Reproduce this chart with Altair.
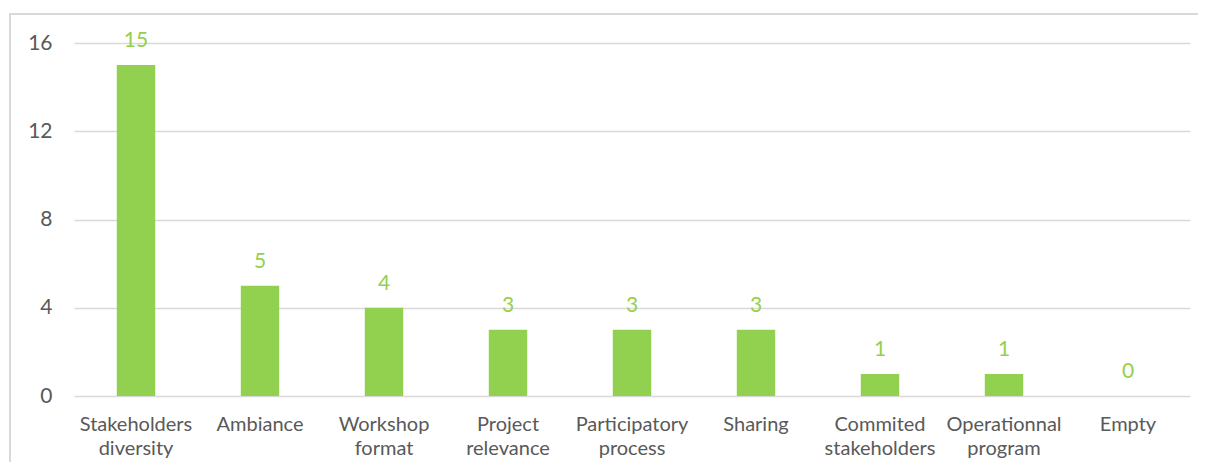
import altair as alt
import pandas as pd

categories = ["Stakeholders diversity", "Ambiance", "Workshop format", "Project relevance",
              "Participatory process", "Sharing", "Commited stakeholders",
              "Operationnal program", "Empty"]
values = [15, 5, 4, 3, 3, 3, 1, 1, 0]
y_ticks = [0, 4, 8, 12, 16]

df = pd.DataFrame({"category": categories, "value": values})

FONT = "Lato"
GREEN = "#92D050"
GREY_TXT = "#595959"
GRID = "#D9D9D9"

x_enc = alt.X("category:N", sort=None,
              scale=alt.Scale(paddingInner=0, paddingOuter=0),
              axis=alt.Axis(title=None, labelAngle=0, domain=False, ticks=False,
                            labelExpr="split(datum.label, ' ')",
                            labelFont=FONT, labelFontSize=20, labelColor=GREY_TXT,
                            labelLineHeight=24.5, labelPadding=18, grid=False))
y_enc = alt.Y("value:Q",
              scale=alt.Scale(domain=[0, 16], nice=False),
              axis=alt.Axis(title=None, values=y_ticks, domain=False, ticks=False,
                            labelFont=FONT, labelFontSize=21, labelColor=GREY_TXT,
                            labelPadding=22, grid=True, gridColor=GRID, gridWidth=1.5))

frame = alt.Chart(df).mark_rect(fill="white", fillOpacity=0, stroke=GRID, strokeWidth=1.5).encode(
    x=alt.value(-64), x2=alt.value(1300), y=alt.value(-29), y2=alt.value(480)
)

bars = alt.Chart(df).mark_bar(color=GREEN, width=alt.RelativeBandSize(0.31)).encode(
    x=x_enc, y=y_enc
)

labels = alt.Chart(df).mark_text(color=GREEN, font=FONT, fontSize=21,
                                 baseline="alphabetic", dy=-18).encode(
    x=alt.X("category:N", sort=None), y=alt.Y("value:Q"), text=alt.Text("value:Q")
)

chart = alt.layer(frame, bars, labels).properties(
    width=1116, height=353,
    autosize=alt.AutoSizeParams(type="none"),
    padding={"left": 66, "top": 35, "right": 8, "bottom": 66},
).configure(background="white").configure_view(stroke=None)

chart.save("out.html", embed_options={"renderer": "svg", "actions": False})
